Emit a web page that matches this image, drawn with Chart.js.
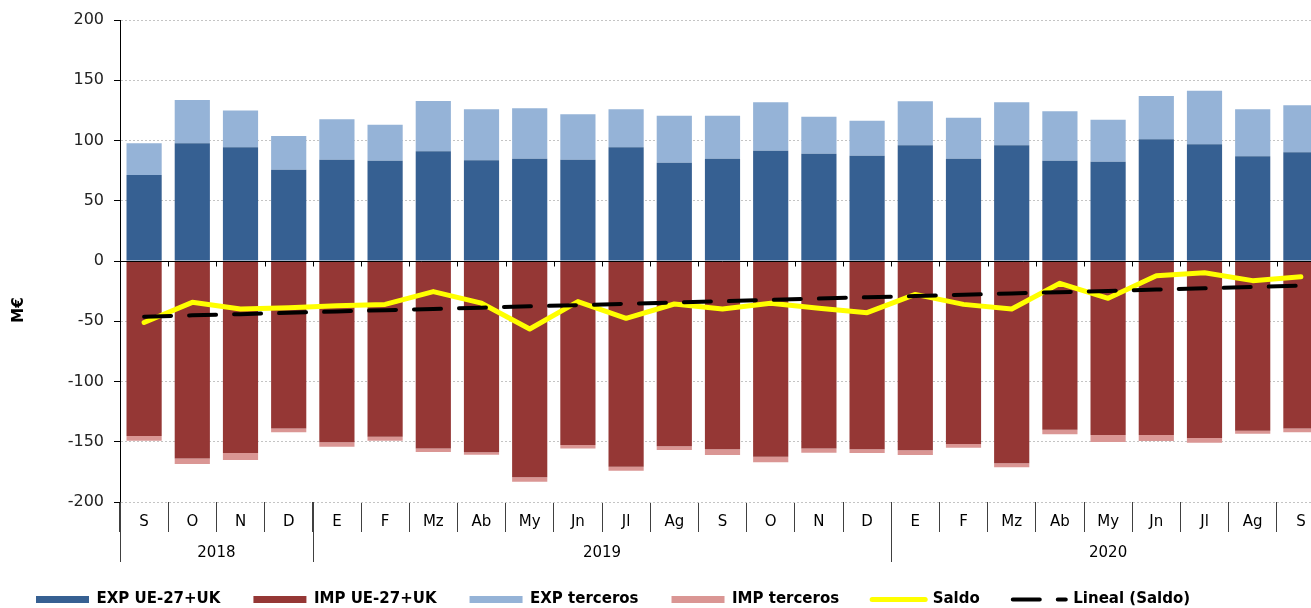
<!DOCTYPE html>
<html>
<head>
<meta charset="utf-8">
<script src="https://cdn.jsdelivr.net/npm/chart.js@4.4.1/dist/chart.umd.min.js"></script>
<style>
    html, body { margin: 0; padding: 0; overflow: hidden; background: #fff; }
    canvas { display: block; }
</style>
</head>
<body>
<canvas id="graficaSaldo" width="1326" height="617"></canvas>
<script>
const meses = ["S", "O", "N", "D", "E", "F", "Mz", "Ab", "My", "Jn", "Jl", "Ag",
               "S", "O", "N", "D", "E", "F", "Mz", "Ab", "My", "Jn", "Jl", "Ag", "S"];
const anios = ["2018", "2019", "2020"];
const mesesPorAnio = [4, 12, 9];

const expUE = [71.4, 97.7, 94.3, 75.8, 84.0, 83.2, 91.0, 83.6, 84.9, 84.1, 94.3, 81.6,
               84.9, 91.5, 89.0, 87.4, 96.0, 84.9, 96.0, 83.2, 82.4, 101.0, 96.8, 86.9, 90.2];
const impUE = [-145.2, -163.8, -159.3, -139.1, -150.5, -145.8, -155.5, -158.8, -179.5, -152.7, -170.7, -153.8,
               -156.3, -162.4, -155.5, -156.3, -157.1, -151.9, -167.9, -140.0, -144.4, -144.4, -146.9, -140.8, -139.1];
const expTerceros = [26.3, 35.9, 30.7, 27.9, 33.6, 29.9, 41.8, 42.3, 41.8, 37.6, 31.6, 39.0,
                     35.7, 40.2, 30.8, 29.0, 36.5, 34.0, 35.7, 41.0, 34.9, 35.9, 44.5, 39.0, 39.0];
const impTerceros = [-3.9, -4.7, -5.8, -3.1, -3.6, -3.3, -3.0, -1.9, -3.6, -3.0, -3.3, -3.0,
                     -4.7, -4.7, -3.6, -3.0, -3.9, -3.0, -3.3, -3.8, -5.8, -5.0, -3.9, -2.5, -3.1];
const saldo = [-51.0, -34.3, -39.8, -38.7, -37.1, -36.0, -25.4, -35.0, -56.4, -33.7, -47.6, -35.7,
               -39.8, -35.1, -39.3, -42.9, -27.7, -36.0, -39.8, -18.5, -31.0, -12.2, -9.7, -16.3, -13.0];
const linealSaldo = [-46.2, -45.1, -44.1, -43.0, -41.9, -40.8, -39.8, -38.7, -37.6, -36.6, -35.5, -34.4,
                     -33.4, -32.3, -31.2, -30.1, -29.1, -28.0, -26.9, -25.9, -24.8, -23.7, -22.7, -21.6, -20.5];

const fuente = "'DejaVu Sans', Verdana, sans-serif";

// eje de años, línea del cero y título del eje Y
const ejeFechas = {
    id: "ejeFechas",
    afterDatasetsDraw(chart) {
        const { ctx, chartArea, scales: { x, y } } = chart;
        const ancho = x.width / meses.length;
        const y0 = Math.round(y.getPixelForValue(0)) + 0.5;
        ctx.save();
        ctx.strokeStyle = "#000";
        ctx.lineWidth = 1;
        ctx.beginPath();
        ctx.moveTo(chartArea.left, y0);
        ctx.lineTo(chartArea.right, y0);
        for (let i = 1; i < meses.length; i++) {
            const px = Math.round(x.left + i * ancho) + 0.5;
            ctx.moveTo(px, y0);
            ctx.lineTo(px, y0 + 5);
        }
        ctx.stroke();
        ctx.restore();
    },
    afterDraw(chart) {
        const { ctx, chartArea, scales: { x } } = chart;
        const ancho = x.width / meses.length;
        ctx.save();
        ctx.strokeStyle = "#404040";
        ctx.lineWidth = 1;
        ctx.fillStyle = "#000";
        ctx.font = "15px " + fuente;
        ctx.textAlign = "center";
        ctx.textBaseline = "middle";
        let inicio = 0;
        anios.forEach((anio, k) => {
            const xa = x.left + inicio * ancho;
            const xb = x.left + (inicio + mesesPorAnio[k]) * ancho;
            const px = Math.round(xa) + 0.5;
            ctx.beginPath();
            ctx.moveTo(px, chartArea.bottom);
            ctx.lineTo(px, chartArea.bottom + 60);
            ctx.stroke();
            ctx.fillText(anio, (xa + xb) / 2, chartArea.bottom + 51);
            inicio += mesesPorAnio[k];
        });

        ctx.translate(19, 310);
        ctx.rotate(-Math.PI / 2);
        ctx.font = "bold 15px " + fuente;
        ctx.fillText("M€", 0, 0);
        ctx.restore();
    }
};

function crearGrafica() {
    const ctx = document.getElementById("graficaSaldo").getContext("2d");

    new Chart(ctx, {
        type: "bar",
        data: {
            labels: meses,
            datasets: [
                { label: "EXP UE-27+UK", data: expUE, backgroundColor: "#366092", pointStyle: "rect" },
                { label: "IMP UE-27+UK", data: impUE, backgroundColor: "#953735", pointStyle: "rect" },
                { label: "EXP terceros", data: expTerceros, backgroundColor: "#95B3D7", pointStyle: "rect" },
                { label: "IMP terceros", data: impTerceros, backgroundColor: "#DA9694", pointStyle: "rect" },
                {
                    type: "line", label: "Saldo", data: saldo, stack: "saldo", order: -1,
                    borderColor: "#FFFF00", backgroundColor: "#FFFF00", borderWidth: 5,
                    borderJoinStyle: "round", borderCapStyle: "round",
                    pointRadius: 0, pointStyle: "line", tension: 0
                },
                {
                    type: "line", label: "Lineal (Saldo)", data: linealSaldo, stack: "lineal", order: -2,
                    borderColor: "#000", backgroundColor: "#000", borderWidth: 4,
                    borderDash: [27, 18], borderCapStyle: "round",
                    pointRadius: 0, pointStyle: "line", tension: 0
                }
            ]
        },
        options: {
            responsive: false,
            animation: false,
            devicePixelRatio: 1,
            layout: { padding: { left: 3, top: 20, right: 1, bottom: 0 } },
            datasets: {
                bar: { barPercentage: 0.73, categoryPercentage: 1 }
            },
            plugins: {
                tooltip: { enabled: false },
                legend: {
                    position: "bottom",
                    align: "start",
                    labels: {
                        usePointStyle: true,
                        pointStyleWidth: 53,
                        boxHeight: 7,
                        padding: 33,
                        color: "#000",
                        font: { family: fuente, size: 15, weight: "bold" },
                        sort: (a, b) => a.datasetIndex - b.datasetIndex,
                        generateLabels(chart) {
                            const items = Chart.defaults.plugins.legend.labels.generateLabels(chart);
                            items.forEach(it => {
                                const ds = chart.data.datasets[it.datasetIndex];
                                if (ds.borderDash) it.lineDash = ds.borderDash;
                                if (ds.borderCapStyle) it.lineCap = ds.borderCapStyle;
                            });
                            return items;
                        }
                    }
                }
            },
            scales: {
                x: {
                    stacked: true,
                    afterFit(scale) { scale.height = 57; },
                    border: { display: false },
                    grid: {
                        offset: true,
                        drawOnChartArea: false,
                        drawTicks: true,
                        tickLength: 30,
                        tickColor: "#404040"
                    },
                    ticks: {
                        autoSkip: false,
                        maxRotation: 0,
                        padding: -18.5,
                        color: "#000",
                        font: { family: fuente, size: 15 }
                    }
                },
                y: {
                    stacked: true,
                    min: -200,
                    max: 200,
                    afterFit(scale) { scale.width = 117; },
                    border: { display: true, color: "#000", width: 1, dash: [2, 2] },
                    grid: {
                        color: "#c4c4c4",
                        tickColor: "#000",
                        tickLength: 6,
                        tickBorderDash: []
                    },
                    ticks: {
                        stepSize: 50,
                        padding: 10,
                        color: "#222",
                        font: { family: fuente, size: 16 }
                    }
                }
            }
        },
        plugins: [ejeFechas]
    });
}

document.addEventListener("DOMContentLoaded", () => {
    crearGrafica();
});
</script>
</body>
</html>
